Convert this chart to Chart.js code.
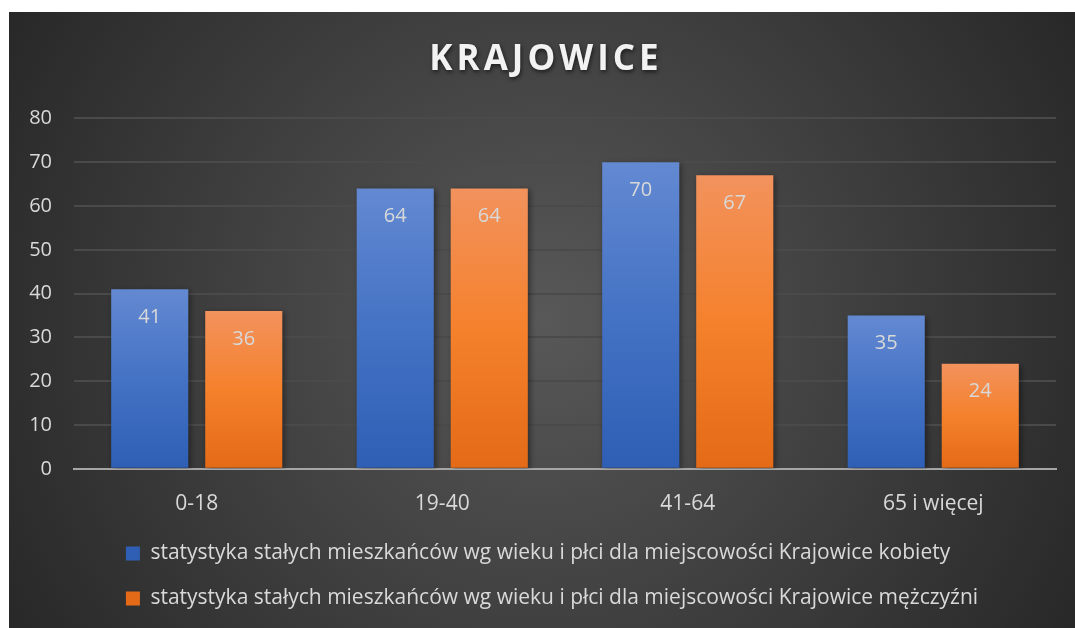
<!DOCTYPE html>
<html>
<head>
<meta charset="utf-8">
<script src="https://cdn.jsdelivr.net/npm/chart.js@4.4.1/dist/chart.umd.min.js"></script>
<style>
  body { margin: 0; background: #fff; }
  #box { position: absolute; left: 9px; top: 12px; width: 1066px; height: 616px; }
</style>
</head>
<body>
<div id="box"><canvas id="myChart"></canvas></div>
<script>
const categories = ['0-18', '19-40', '41-64', '65 i więcej'];
const kobiety = [41, 64, 70, 35];
const mezczyzni = [36, 64, 67, 24];
const seriesNames = [
    'statystyka stałych mieszkańców wg wieku i płci dla miejscowości Krajowice kobiety',
    'statystyka stałych mieszkańców wg wieku i płci dla miejscowości Krajowice mężczyźni'
];
const chartTitle = 'KRAJOWICE';

const FONT = '"Open Sans", Lato, sans-serif';
const txt = '#d9d9d9';

function barGradient(stops) {
    return function(context) {
        const chart = context.chart;
        if (!chart.chartArea || !chart.scales.y) return stops[1];
        const y = chart.scales.y;
        const top = y.getPixelForValue(context.raw);
        const bottom = y.getPixelForValue(0);
        if (!isFinite(top) || !isFinite(bottom) || top === bottom) return stops[1];
        const g = chart.ctx.createLinearGradient(0, top, 0, bottom);
        g.addColorStop(0, stops[0]);
        g.addColorStop(0.5, stops[1]);
        g.addColorStop(1, stops[2]);
        return g;
    };
}

const background = {
    id: 'background',
    beforeDraw(chart) {
        const { ctx, width, height } = chart;
        const g = ctx.createRadialGradient(width / 2, height / 2, 0, width / 2, height / 2, width * 0.6);
        g.addColorStop(0, '#585858');
        g.addColorStop(1, '#262626');
        ctx.save();
        ctx.fillStyle = g;
        ctx.fillRect(0, 0, width, height);
        ctx.restore();
    }
};

const barShadow = {
    id: 'barShadow',
    beforeDatasetsDraw(chart) {
        const ctx = chart.ctx;
        ctx.save();
        ctx.shadowColor = 'rgba(0,0,0,0.45)';
        ctx.shadowBlur = 6;
        ctx.shadowOffsetX = 2;
        ctx.shadowOffsetY = 2;
    },
    afterDatasetsDraw(chart) {
        chart.ctx.restore();
    }
};

const valueLabels = {
    id: 'valueLabels',
    afterDatasetsDraw(chart) {
        const ctx = chart.ctx;
        ctx.save();
        ctx.font = '20px ' + FONT;
        ctx.fillStyle = txt;
        ctx.textAlign = 'center';
        ctx.textBaseline = 'middle';
        chart.data.datasets.forEach((ds, i) => {
            chart.getDatasetMeta(i).data.forEach((bar, j) => {
                ctx.fillText(ds.data[j], bar.x, bar.y + 28);
            });
        });
        ctx.restore();
    }
};

// title drawn by hand for letter spacing + shadow; Chart.js title keeps the space
const titleText = {
    id: 'titleText',
    afterDraw(chart) {
        const ctx = chart.ctx;
        ctx.save();
        ctx.font = 'bold 35px ' + FONT;
        ctx.letterSpacing = '4px';
        ctx.textAlign = 'center';
        ctx.textBaseline = 'middle';
        ctx.shadowColor = 'rgba(0,0,0,0.6)';
        ctx.shadowBlur = 4;
        ctx.shadowOffsetX = 1;
        ctx.shadowOffsetY = 2;
        ctx.fillStyle = '#f2f2f2';
        ctx.fillText(chartTitle, chart.width / 2 + 4, 48);
        ctx.restore();
    }
};

// legend rows left-aligned as one block, slightly right of centre like the original
const legendBlock = {
    id: 'legendBlock',
    afterLayout(chart) {
        const lg = chart.legend;
        if (!lg || !lg.lineWidths) return;
        const pad = lg.options.labels.padding;
        const w = Math.max(...lg.lineWidths) - pad;
        lg.left = (chart.width - w) / 2 - pad + 10;
    }
};

const ctx = document.getElementById('myChart').getContext('2d');
let chart = new Chart(ctx, {
    type: 'bar',
    data: {
        labels: categories,
        datasets: [{
            label: seriesNames[0],
            data: kobiety,
            backgroundColor: barGradient(['#6389d2', '#4472c4', '#2e5fb5']),
            borderWidth: 0
        }, {
            label: seriesNames[1],
            data: mezczyzni,
            backgroundColor: barGradient(['#f2925d', '#f5812c', '#e46a17']),
            borderWidth: 0
        }]
    },
    options: {
        responsive: true,
        maintainAspectRatio: false,
        animation: false,
        categoryPercentage: 0.766,
        barPercentage: 0.82,
        layout: {
            padding: { left: 0, right: 19, top: 0, bottom: 9 }
        },
        scales: {
            x: {
                grid: { display: false },
                border: { color: '#a6a6a6', width: 2 },
                ticks: { color: txt, font: { family: FONT, size: 21 }, padding: 15 },
                afterFit(scale) { scale.height -= 13; }
            },
            y: {
                min: 0,
                max: 80,
                ticks: { stepSize: 10, color: txt, font: { family: FONT, size: 20 }, padding: 22 },
                grid: { color: '#4a4a4a', lineWidth: 2, drawTicks: false },
                border: { display: false },
                afterFit(scale) { scale.width = 65; }
            }
        },
        plugins: {
            title: {
                display: true,
                text: chartTitle,
                color: 'rgba(0,0,0,0)',
                font: { family: FONT, size: 32, weight: 'bold' },
                padding: { top: 28, bottom: 40 }
            },
            legend: {
                position: 'bottom',
                align: 'start',
                labels: {
                    color: txt,
                    font: { family: FONT, size: 21 },
                    boxWidth: 14,
                    boxHeight: 14,
                    padding: 24
                }
            },
            tooltip: { enabled: false }
        }
    },
    plugins: [background, barShadow, valueLabels, titleText, legendBlock]
});
</script>
</body>
</html>
